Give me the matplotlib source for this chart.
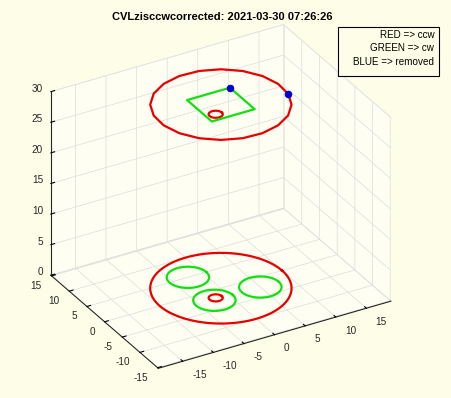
import numpy as np
import matplotlib
matplotlib.use("Agg")
import matplotlib.pyplot as plt
from matplotlib.patches import Rectangle
from mpl_toolkits.mplot3d import proj3d

TITLE = "CVLzisccwcorrected: 2021-03-30 07:26:26"
LEGEND_LINES = ["RED => ccw", "GREEN => cw", "BLUE => removed"]

# bottom layer (z=0): smooth circles as (cx, cy, r)
BOTTOM_RED = [(0.0, 0.0, 10.0), (-2.0, -2.0, 1.0)]
BOTTOM_GREEN = [(-2.5, 5.0, 3.0), (5.0, -2.5, 3.0), (-2.5, -2.5, 3.0)]

# top layer (z=30)
TOP_Z = 30.0
TOP_POLY_R = 10.0          # coarse red outline, 20 vertices
TOP_POLY_N = 20
TOP_POLY_START = -12.0     # deg, first vertex
TOP_RED = [(-2.0, -2.0, 1.0)]
TOP_GREEN_X = [3.5, 3.5, -3.5, -3.5, 3.5]
TOP_GREEN_Y = [3.5, -3.5, -3.5, 3.5, 3.5]
BLUE_X = [3.5, 9.78]
BLUE_Y = [3.5, -2.08]

XLIM = (-19.0, 19.0)
YLIM = (-15.2, 15.2)
ZLIM = (0.0, 30.0)
TICKS_XY = [-15, -10, -5, 0, 5, 10, 15]
TICKS_Z = [0, 5, 10, 15, 20, 25, 30]

BG = "#fefee8"
RED = "#e80000"
GREEN = "#10e010"
INK = "#262626"
W, H = 452, 398

plt.rcParams["font.family"] = ["Liberation Sans", "DejaVu Sans"]


def circle(cx, cy, r, n=120):
    t = np.linspace(0, 2 * np.pi, n)
    return cx + r * np.cos(t), cy + r * np.sin(t)


fig = plt.figure(figsize=(W / 100, H / 100), dpi=100, facecolor=BG)
S0 = 300
ax = fig.add_axes([0.1, 0.1, S0 / W, S0 / H], projection="3d")
ax.set_proj_type("ortho")
ax.view_init(elev=30, azim=-120)
ax.set_xlim(*XLIM)
ax.set_ylim(*YLIM)
ax.set_zlim(*ZLIM)
ax.set_box_aspect((XLIM[1] - XLIM[0], YLIM[1] - YLIM[0], ZLIM[1] - ZLIM[0]))
ax.set_facecolor((0, 0, 0, 0))

for cx, cy, r in BOTTOM_RED:
    x, y = circle(cx, cy, r)
    ax.plot(x, y, np.zeros_like(x), color=RED, lw=1.6)
for cx, cy, r in BOTTOM_GREEN:
    x, y = circle(cx, cy, r)
    ax.plot(x, y, np.zeros_like(x), color=GREEN, lw=1.6)

ang = np.deg2rad(TOP_POLY_START + 360.0 / TOP_POLY_N * np.arange(TOP_POLY_N + 1))
ax.plot(TOP_POLY_R * np.cos(ang), TOP_POLY_R * np.sin(ang),
        np.full(ang.size, TOP_Z), color=RED, lw=1.6)
for cx, cy, r in TOP_RED:
    x, y = circle(cx, cy, r)
    ax.plot(x, y, np.full_like(x, TOP_Z), color=RED, lw=1.6)
ax.plot(TOP_GREEN_X, TOP_GREEN_Y, np.full(len(TOP_GREEN_X), TOP_Z),
        color=GREEN, lw=1.6)
ax.plot(BLUE_X, BLUE_Y, np.full(len(BLUE_X), TOP_Z), ls="none",
        marker="o", ms=4.8, mfc="#0000e8", mec="#000090", mew=0.6)

ax.set_xticks(TICKS_XY)
ax.set_yticks(TICKS_XY)
ax.set_zticks(TICKS_Z)
ax.set_xticklabels([])
ax.set_yticklabels([])
ax.set_zticklabels([])
for axis in (ax.xaxis, ax.yaxis, ax.zaxis):
    axis.pane.set_facecolor((1, 1, 1, 1))
    axis.pane.set_edgecolor((0.86, 0.86, 0.86, 0.8))
    axis.pane.set_linewidth(0.5)
    axis.line.set_color(INK)
    axis.line.set_linewidth(0.8)
    axis._axinfo["grid"].update(color="#dcdcdc", linewidth=0.5)
    axis._axinfo["tick"].update(inward_factor=0.0, outward_factor=0.2)
    axis._axinfo["tick"]["color"] = INK
ax.grid(True)

# fit the projected box onto the reference pixels
fig.canvas.draw()


def to_px(x, y, z):
    px, py, _ = proj3d.proj_transform(x, y, z, ax.get_proj())
    return ax.transData.transform((px, py))


front = to_px(XLIM[0], YLIM[0], ZLIM[0])
left = to_px(XLIM[0], YLIM[1], ZLIM[0])
right = to_px(XLIM[1], YLIM[0], ZLIM[0])
bb = ax.get_position().transformed(fig.transFigure)
c0 = np.array([(bb.x0 + bb.x1) / 2, (bb.y0 + bb.y1) / 2])
k = 340.0 / (right[0] - left[0])
target = np.array([158.3, H - 368.3])
c1 = target - k * (front - c0)
S1 = bb.width * k
ax.set_position([(c1[0] - S1 / 2) / W, (c1[1] - S1 / 2) / H, S1 / W, S1 / H])
fig.canvas.draw()

# tick labels placed MATLAB-style next to the axis lines
tick_kw = dict(fontsize=7.2, color=INK, transform=None)
for v in TICKS_XY:
    px, py = to_px(v, YLIM[0], ZLIM[0])
    fig.text(px + 9.3, py - 13.5, str(v), ha="left", va="center", **tick_kw)
    px, py = to_px(XLIM[0], v, ZLIM[0])
    fig.text(px - 9.7, py - 10, str(v), ha="right", va="center", **tick_kw)
for v in TICKS_Z:
    px, py = to_px(XLIM[0], YLIM[1], v)
    fig.text(px - 7.7, py + 3, str(v), ha="right", va="center", **tick_kw)

fig.text(222.5 / W, 1 - 20 / H, TITLE, ha="center", va="baseline",
         fontsize=8, fontweight="bold", color="black")

fig.add_artist(Rectangle((337.7 / W, 1 - 76 / H), 101.6 / W, 49.3 / H,
                         transform=fig.transFigure, facecolor=BG,
                         edgecolor="black", lw=0.8))
for i, s in enumerate(LEGEND_LINES):
    fig.text(434.3 / W, 1 - (35 + 13.3 * i) / H, s, ha="right", va="center",
             fontsize=7.1, color="black")

fig.savefig("out.png", dpi=100, facecolor=BG)
